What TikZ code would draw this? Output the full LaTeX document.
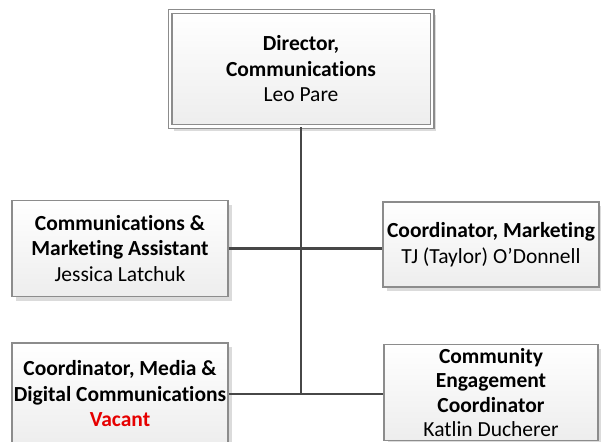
\documentclass[tikz,border=0pt]{standalone}
\usepackage{fontspec}
\setmainfont{Carlito}[Ligatures=NoCommon]
\usepackage{tikz}
\usetikzlibrary{shadows}
\usepackage{xcolor}
\definecolor{vacantred}{RGB}{230,0,0}

\begin{document}
\begin{tikzpicture}[x=1pt,y=-1pt,line cap=round,
  post/.style={draw=black!45,line width=1.6pt,top color=white,bottom color=black!7,
    align=center,inner sep=0pt,font=\fontsize{21.5}{25.5}\selectfont,
    drop shadow={shadow xshift=4pt,shadow yshift=-4pt,fill=black!14,opacity=1}},
  chief/.style={post,double=white,line width=1.4pt,double distance=2.2pt},
  link/.style={draw=black!72,line width=2.6pt,line cap=butt}]
\useasboundingbox (0,0) rectangle (601,441);
\clip (0,0) rectangle (601,441);
\node[chief,minimum width=262pt,minimum height=115pt] (director) at (301,69)
  {\textbf{Director,}\\\textbf{Communications}\\Leo Pare};
\node[post,minimum width=216pt,minimum height=96pt] (assistant) at (120,248.5)
  {\textbf{Communications \&}\\\textbf{Marketing Assistant}\\Jessica Latchuk};
\node[post,minimum width=216pt,minimum height=85pt] (marketing) at (491,244.5)
  {\textbf{Coordinator, Marketing}\\TJ (Taylor) O’Donnell};
\node[post,minimum width=216pt,minimum height=102pt] (media) at (120,394)
  {\textbf{Coordinator, Media \&}\\\textbf{Digital Communications}\\\textcolor{vacantred}{\textbf{Vacant}}};
\node[post,minimum width=214pt,minimum height=96pt,font=\fontsize{21.5}{24.5}\selectfont] (community) at (491,392.5)
  {\textbf{Community}\\\textbf{Engagement}\\\textbf{Coordinator}\\Katlin Ducherer};
\draw[link] (director.south) -- (director.south |- media.east);
\draw[link] (assistant.east) -- (assistant.east -| marketing.west);
\draw[link] (media.east) -- (media.east -| community.west);
\end{tikzpicture}
\end{document}
